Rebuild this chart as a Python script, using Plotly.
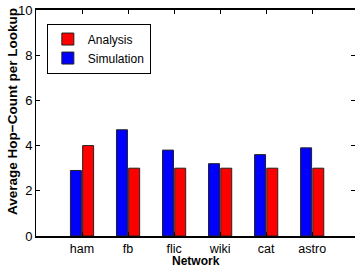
import plotly.graph_objects as go

networks = ["ham", "fb", "flic", "wiki", "cat", "astro"]
simulation = [2.9, 4.7, 3.8, 3.2, 3.6, 3.9]
analysis = [4.0, 3.0, 3.0, 3.0, 3.0, 3.0]
yticks = [0, 2, 4, 6, 8, 10]

xpos = list(range(1, len(networks) + 1))

fig = go.Figure()
fig.add_trace(go.Bar(x=xpos, y=simulation, name="Simulation",
                     marker=dict(color="#0000ff", line=dict(color="#222", width=1))))
fig.add_trace(go.Bar(x=xpos, y=analysis, name="Analysis",
                     marker=dict(color="#ff0000", line=dict(color="#222", width=1))))

sans = "Liberation Sans, Arial, Helvetica"

fig.update_layout(
    width=355, height=276,
    margin=dict(l=36, r=0, t=10, b=40, autoexpand=False),
    plot_bgcolor="white", paper_bgcolor="white",
    barmode="group", bargap=0.47, bargroupgap=0.1,
    showlegend=True,
    legend=dict(x=0.034, y=0.94, xanchor="left", yanchor="top",
                traceorder="reversed", bordercolor="#000", borderwidth=1,
                bgcolor="white", font=dict(family=sans, size=12, color="#000"),
                itemwidth=30, tracegroupgap=0),
    xaxis=dict(range=[0, 6.93], tickvals=xpos, ticktext=networks,
               showline=True, linecolor="#000", linewidth=2, mirror="ticks",
               ticks="inside", ticklen=4, tickcolor="#000", showgrid=False,
               zeroline=False, automargin=False,
               tickfont=dict(family=sans, size=12.5, color="#000")),
    yaxis=dict(range=[0, 10], tickvals=yticks,
               showline=True, linecolor="#000", linewidth=1, mirror="ticks",
               ticks="inside", ticklen=4, tickcolor="#000", showgrid=False,
               zeroline=False, automargin=False,
               tickfont=dict(family=sans, size=13, color="#000")),
    annotations=[
        dict(text="<b>Average Hop\u2212Count per Lookup</b>",
             xref="paper", yref="paper", x=-0.072, y=0.549,
             xanchor="center", yanchor="middle", textangle=-90,
             showarrow=False,
             font=dict(family=sans, size=13.5, color="#000")),
        dict(text="<b>Network</b>",
             xref="paper", yref="paper", x=0.5, y=-0.111,
             xanchor="center", yanchor="middle",
             showarrow=False,
             font=dict(family=sans, size=12, color="#000")),
    ],
)

fig.write_html("out.html",
               config={"displayModeBar": False},
               post_script="document.body.style.margin='0';document.body.style.overflow='hidden';")
